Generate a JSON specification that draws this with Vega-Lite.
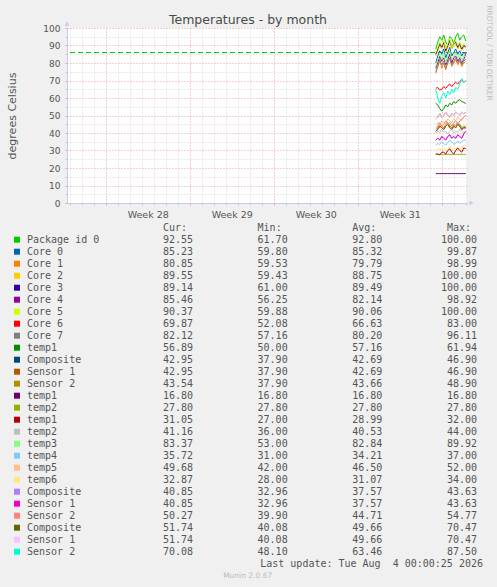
{
  "$schema": "https://vega.github.io/schema/vega-lite/v6.json",
  "description": "Munin style temperature graph, by month, with its legend table.",
  "width": 400,
  "height": 175,
  "autosize": "none",
  "padding": {"left": 67, "top": 28, "right": 30, "bottom": 384},
  "background": "#f0f0f0",
  "title": {
    "text": "Temperatures - by month",
    "font": "DejaVu Sans",
    "fontSize": 12.5,
    "fontWeight": "normal",
    "color": "#4a4a4a",
    "anchor": "middle",
    "frame": "group",
    "baseline": "alphabetic",
    "dx": -19,
    "dy": 35,
    "offset": 3
  },
  "config": {
    "view": {"fill": "#ffffff", "stroke": null},
    "text": {"font": "DejaVu Sans Mono", "fontSize": 10, "color": "#555555"}
  },
  "datasets": {
    "temps": [
      {"t": "2026-08-01T12:00", "pkg": 88, "c0": 80, "c1": 74, "c2": 84, "c3": 85, "c4": 77, "c5": 86, "c6": 65.5, "c7": 75, "t1a": 57, "comp1": 41, "s1a": 41, "s2a": 42, "t1b": 16.8, "t2a": 27.8, "t1c": 28, "t2b": 40, "t3": 78, "t4": 33, "t5": 45, "t6": 30, "comp2": 36, "s1b": 36, "s2b": 43, "comp3": 48, "s1c": 48, "s2c": 65},
      {"t": "2026-08-01T16:00", "pkg": 92, "c0": 84, "c1": 78, "c2": 87, "c3": 88, "c4": 80, "c5": 89, "c6": 66, "c7": 78, "t1a": 56, "comp1": 42, "s1a": 42, "s2a": 43, "t1b": 16.8, "t2a": 27.8, "t1c": 28, "t2b": 41, "t3": 82, "t4": 34, "t5": 46, "t6": 31, "comp2": 37, "s1b": 37, "s2b": 44, "comp3": 49, "s1c": 49, "s2c": 60},
      {"t": "2026-08-01T20:00", "pkg": 95, "c0": 87, "c1": 82, "c2": 90, "c3": 91, "c4": 84, "c5": 92, "c6": 64.5, "c7": 82, "t1a": 54, "comp1": 44, "s1a": 44, "s2a": 45, "t1b": 16.8, "t2a": 27.8, "t1c": 27.5, "t2b": 40, "t3": 85, "t4": 33.5, "t5": 44, "t6": 30.5, "comp2": 36, "s1b": 36, "s2b": 46, "comp3": 51, "s1c": 51, "s2c": 57},
      {"t": "2026-08-02T00:00", "pkg": 93, "c0": 85, "c1": 77, "c2": 88, "c3": 89, "c4": 81, "c5": 90, "c6": 65, "c7": 79, "t1a": 52.5, "comp1": 43, "s1a": 43, "s2a": 44, "t1b": 16.8, "t2a": 27.8, "t1c": 29, "t2b": 42, "t3": 82, "t4": 35, "t5": 47, "t6": 31, "comp2": 38, "s1b": 38, "s2b": 44, "comp3": 49, "s1c": 49, "s2c": 61},
      {"t": "2026-08-02T04:00", "pkg": 96, "c0": 88, "c1": 80, "c2": 91, "c3": 92, "c4": 83, "c5": 93, "c6": 66.5, "c7": 81, "t1a": 54, "comp1": 42, "s1a": 42, "s2a": 43, "t1b": 16.8, "t2a": 27.8, "t1c": 29, "t2b": 40.5, "t3": 86, "t4": 34, "t5": 46, "t6": 32, "comp2": 37, "s1b": 37, "s2b": 45, "comp3": 50, "s1c": 50, "s2c": 63},
      {"t": "2026-08-02T08:00", "pkg": 92, "c0": 83, "c1": 76, "c2": 86, "c3": 87, "c4": 79, "c5": 88, "c6": 65.5, "c7": 77, "t1a": 56, "comp1": 44, "s1a": 44, "s2a": 45, "t1b": 16.8, "t2a": 27.8, "t1c": 28, "t2b": 41, "t3": 80, "t4": 33, "t5": 45, "t6": 30, "comp2": 36, "s1b": 36, "s2b": 47, "comp3": 52, "s1c": 52, "s2c": 60},
      {"t": "2026-08-02T12:00", "pkg": 90, "c0": 86, "c1": 81, "c2": 89, "c3": 90, "c4": 82, "c5": 91, "c6": 67, "c7": 80, "t1a": 55, "comp1": 45, "s1a": 45, "s2a": 46, "t1b": 16.8, "t2a": 27.8, "t1c": 30, "t2b": 39.5, "t3": 84, "t4": 34.5, "t5": 48, "t6": 31, "comp2": 38, "s1b": 38, "s2b": 45, "comp3": 50, "s1c": 50, "s2c": 64},
      {"t": "2026-08-02T16:00", "pkg": 95, "c0": 89, "c1": 83, "c2": 92, "c3": 93, "c4": 85, "c5": 94, "c6": 68, "c7": 83, "t1a": 57, "comp1": 43, "s1a": 43, "s2a": 44, "t1b": 16.8, "t2a": 27.8, "t1c": 31, "t2b": 41, "t3": 87, "t4": 36, "t5": 47, "t6": 32.5, "comp2": 39, "s1b": 39, "s2b": 46, "comp3": 49, "s1c": 49, "s2c": 62},
      {"t": "2026-08-02T20:00", "pkg": 94, "c0": 84, "c1": 78, "c2": 88, "c3": 89, "c4": 80, "c5": 89, "c6": 66.5, "c7": 79, "t1a": 56, "comp1": 42, "s1a": 42, "s2a": 43, "t1b": 16.8, "t2a": 27.8, "t1c": 29, "t2b": 42, "t3": 82, "t4": 35, "t5": 46, "t6": 31, "comp2": 37, "s1b": 37, "s2b": 44, "comp3": 51, "s1c": 51, "s2c": 65},
      {"t": "2026-08-03T00:00", "pkg": 91, "c0": 86, "c1": 80, "c2": 90, "c3": 91, "c4": 83, "c5": 91, "c6": 68, "c7": 81, "t1a": 58, "comp1": 44, "s1a": 44, "s2a": 45, "t1b": 16.8, "t2a": 27.8, "t1c": 28, "t2b": 40, "t3": 84, "t4": 33.5, "t5": 48, "t6": 30, "comp2": 38, "s1b": 38, "s2b": 46, "comp3": 50, "s1c": 50, "s2c": 63},
      {"t": "2026-08-03T04:00", "pkg": 95, "c0": 88, "c1": 82, "c2": 91, "c3": 92, "c4": 84, "c5": 93, "c6": 69, "c7": 83, "t1a": 57, "comp1": 43, "s1a": 43, "s2a": 44, "t1b": 16.8, "t2a": 27.8, "t1c": 30, "t2b": 41, "t3": 86, "t4": 34, "t5": 47, "t6": 31.5, "comp2": 37, "s1b": 37, "s2b": 47, "comp3": 52, "s1c": 52, "s2c": 66},
      {"t": "2026-08-03T08:00", "pkg": 97, "c0": 85, "c1": 79, "c2": 88, "c3": 89, "c4": 81, "c5": 90, "c6": 68, "c7": 80, "t1a": 58.5, "comp1": 45, "s1a": 45, "s2a": 46, "t1b": 16.8, "t2a": 27.8, "t1c": 31.5, "t2b": 40.5, "t3": 83, "t4": 35.5, "t5": 49, "t6": 32, "comp2": 39, "s1b": 39, "s2b": 45, "comp3": 51, "s1c": 51, "s2c": 65},
      {"t": "2026-08-03T12:00", "pkg": 93, "c0": 87, "c1": 81, "c2": 90, "c3": 91, "c4": 83, "c5": 92, "c6": 69.5, "c7": 82, "t1a": 59, "comp1": 44, "s1a": 44, "s2a": 45, "t1b": 16.8, "t2a": 27.8, "t1c": 30, "t2b": 42, "t3": 85, "t4": 34, "t5": 48, "t6": 31, "comp2": 38, "s1b": 38, "s2b": 47, "comp3": 50, "s1c": 50, "s2c": 68},
      {"t": "2026-08-03T16:00", "pkg": 95, "c0": 84, "c1": 78, "c2": 87, "c3": 88, "c4": 80, "c5": 89, "c6": 70.5, "c7": 79, "t1a": 58, "comp1": 42, "s1a": 42, "s2a": 43, "t1b": 16.8, "t2a": 27.8, "t1c": 29, "t2b": 41, "t3": 81, "t4": 35, "t5": 47, "t6": 32, "comp2": 37, "s1b": 37, "s2b": 48, "comp3": 52, "s1c": 52, "s2c": 71},
      {"t": "2026-08-03T20:00", "pkg": 96, "c0": 86, "c1": 80, "c2": 89, "c3": 90, "c4": 82, "c5": 91, "c6": 69, "c7": 81, "t1a": 57.5, "comp1": 43, "s1a": 43, "s2a": 44, "t1b": 16.8, "t2a": 27.8, "t1c": 31.5, "t2b": 40, "t3": 84, "t4": 36, "t5": 49, "t6": 33, "comp2": 39.5, "s1b": 39.5, "s2b": 49, "comp3": 51, "s1c": 51, "s2c": 69},
      {"t": "2026-08-04T00:00", "pkg": 92.55, "c0": 85.23, "c1": 80.85, "c2": 89.55, "c3": 89.14, "c4": 85.46, "c5": 90.37, "c6": 69.87, "c7": 82.12, "t1a": 56.89, "comp1": 42.95, "s1a": 42.95, "s2a": 43.54, "t1b": 16.8, "t2a": 27.8, "t1c": 31.05, "t2b": 41.16, "t3": 83.37, "t4": 35.72, "t5": 49.68, "t6": 32.87, "comp2": 40.85, "s1b": 40.85, "s2b": 50.27, "comp3": 51.74, "s1c": 51.74, "s2c": 70.08}
    ],
    "stats": [
      {"key": "pkg", "name": "Package id 0", "Cur": 92.55, "Min": 61.70, "Avg": 92.80, "Max": 100.00},
      {"key": "c0", "name": "Core 0", "Cur": 85.23, "Min": 59.80, "Avg": 85.32, "Max": 99.87},
      {"key": "c1", "name": "Core 1", "Cur": 80.85, "Min": 59.53, "Avg": 79.79, "Max": 98.99},
      {"key": "c2", "name": "Core 2", "Cur": 89.55, "Min": 59.43, "Avg": 88.75, "Max": 100.00},
      {"key": "c3", "name": "Core 3", "Cur": 89.14, "Min": 61.00, "Avg": 89.49, "Max": 100.00},
      {"key": "c4", "name": "Core 4", "Cur": 85.46, "Min": 56.25, "Avg": 82.14, "Max": 98.92},
      {"key": "c5", "name": "Core 5", "Cur": 90.37, "Min": 59.88, "Avg": 90.06, "Max": 100.00},
      {"key": "c6", "name": "Core 6", "Cur": 69.87, "Min": 52.08, "Avg": 66.63, "Max": 83.00},
      {"key": "c7", "name": "Core 7", "Cur": 82.12, "Min": 57.16, "Avg": 80.20, "Max": 96.11},
      {"key": "t1a", "name": "temp1", "Cur": 56.89, "Min": 50.00, "Avg": 57.16, "Max": 61.94},
      {"key": "comp1", "name": "Composite", "Cur": 42.95, "Min": 37.90, "Avg": 42.69, "Max": 46.90},
      {"key": "s1a", "name": "Sensor 1", "Cur": 42.95, "Min": 37.90, "Avg": 42.69, "Max": 46.90},
      {"key": "s2a", "name": "Sensor 2", "Cur": 43.54, "Min": 37.90, "Avg": 43.66, "Max": 48.90},
      {"key": "t1b", "name": "temp1", "Cur": 16.80, "Min": 16.80, "Avg": 16.80, "Max": 16.80},
      {"key": "t2a", "name": "temp2", "Cur": 27.80, "Min": 27.80, "Avg": 27.80, "Max": 27.80},
      {"key": "t1c", "name": "temp1", "Cur": 31.05, "Min": 27.00, "Avg": 28.99, "Max": 32.00},
      {"key": "t2b", "name": "temp2", "Cur": 41.16, "Min": 36.00, "Avg": 40.53, "Max": 44.00},
      {"key": "t3", "name": "temp3", "Cur": 83.37, "Min": 53.00, "Avg": 82.84, "Max": 89.92},
      {"key": "t4", "name": "temp4", "Cur": 35.72, "Min": 31.00, "Avg": 34.21, "Max": 37.00},
      {"key": "t5", "name": "temp5", "Cur": 49.68, "Min": 42.00, "Avg": 46.50, "Max": 52.00},
      {"key": "t6", "name": "temp6", "Cur": 32.87, "Min": 28.00, "Avg": 31.07, "Max": 34.00},
      {"key": "comp2", "name": "Composite", "Cur": 40.85, "Min": 32.96, "Avg": 37.57, "Max": 43.63},
      {"key": "s1b", "name": "Sensor 1", "Cur": 40.85, "Min": 32.96, "Avg": 37.57, "Max": 43.63},
      {"key": "s2b", "name": "Sensor 2", "Cur": 50.27, "Min": 39.90, "Avg": 44.71, "Max": 54.77},
      {"key": "comp3", "name": "Composite", "Cur": 51.74, "Min": 40.08, "Avg": 49.66, "Max": 70.47},
      {"key": "s1c", "name": "Sensor 1", "Cur": 51.74, "Min": 40.08, "Avg": 49.66, "Max": 70.47},
      {"key": "s2c", "name": "Sensor 2", "Cur": 70.08, "Min": 48.10, "Avg": 63.46, "Max": 87.50}
    ]
  },
  "resolve": {"scale": {"x": "independent", "y": "independent"}},
  "layer": [
    {
      "resolve": {"axis": {"y": "independent"}},
      "layer": [
        {
          "data": {"values": [{"limit": 86}]},
          "mark": {"type": "rule", "color": "#00cc00", "strokeWidth": 1, "strokeDash": [5, 3]},
          "encoding": {
            "y": {
              "field": "limit",
              "type": "quantitative",
              "scale": {"domain": [0, 100], "nice": false},
              "axis": {
                "orient": "right",
                "title": "RRDTOOL / TOBI OETIKER",
                "labels": false,
                "ticks": false,
                "domain": false,
                "grid": false,
                "titleFont": "DejaVu Sans",
                "titleFontSize": 7.4,
                "titleFontWeight": "normal",
                "titleColor": "#bbbbbb",
                "titleAngle": 90,
                "titleY": 24.5,
                "titlePadding": 17
              }
            }
          }
        },
        {
          "data": {"name": "temps"},
          "transform": [
            {
              "fold": ["pkg", "c0", "c1", "c2", "c3", "c4", "c5", "c6", "c7", "t1a", "comp1", "s1a", "s2a", "t1b", "t2a", "t1c", "t2b", "t3", "t4", "t5", "t6", "comp2", "s1b", "s2b", "comp3", "s1c", "s2c"],
              "as": ["key", "temp"]
            }
          ],
          "mark": {"type": "line", "strokeWidth": 1},
          "encoding": {
            "x": {
              "field": "t",
              "type": "temporal",
              "scale": {
                "domain": [
                  {"year": 2026, "month": 7, "date": 1, "hours": 18, "minutes": 30},
                  {"year": 2026, "month": 8, "date": 4, "hours": 2, "minutes": 30}
                ]
              },
              "axis": {
                "title": null,
                "tickCount": {"interval": "day", "step": 1},
                "grid": true,
                "gridColor": {"condition": {"test": "day(datum.value) === 0", "value": "#e8a0a0"}, "value": "#d4d4d4"},
                "gridDash": [1, 2],
                "tickSize": 2,
                "tickColor": {"condition": {"test": "day(datum.value) === 0", "value": "#e8a0a0"}, "value": "#cccccc"},
                "domainColor": "#c8c8f0",
                "labelExpr": "day(datum.value) === 0 && time(datum.value) < time(datetime(2026, 7, 1)) ? 'Week ' + timeFormat(time(datum.value) + 302400000, '%V') : ''",
                "labelOffset": 42,
                "labelOverlap": false,
                "labelBound": false,
                "labelFlush": false,
                "labelFont": "DejaVu Sans",
                "labelFontSize": 9.5,
                "labelColor": "#555555",
                "labelPadding": 4
              }
            },
            "y": {
              "field": "temp",
              "type": "quantitative",
              "scale": {"domain": [0, 100], "nice": false},
              "axis": {
                "orient": "left",
                "values": [0, 5, 10, 15, 20, 25, 30, 35, 40, 45, 50, 55, 60, 65, 70, 75, 80, 85, 90, 95, 100],
                "labelExpr": "datum.value % 10 === 0 ? datum.label : ''",
                "labelOverlap": false,
                "labelFont": "DejaVu Sans",
                "labelFontSize": 9,
                "labelColor": "#555555",
                "labelPadding": 5,
                "tickSize": 2,
                "tickColor": {"condition": {"test": "datum.value % 10 === 0", "value": "#e8a0a0"}, "value": "#cccccc"},
                "grid": true,
                "gridColor": {"condition": {"test": "datum.value % 10 === 0", "value": "#e8a0a0"}, "value": "#d4d4d4"},
                "gridDash": [1, 2],
                "domainColor": "#c8c8f0",
                "title": "degrees Celsius",
                "titleFont": "DejaVu Sans",
                "titleFontSize": 11,
                "titleFontWeight": "normal",
                "titleColor": "#555555",
                "titlePadding": 25
              }
            },
            "color": {
              "field": "key",
              "type": "nominal",
              "scale": {
                "domain": ["pkg", "c0", "c1", "c2", "c3", "c4", "c5", "c6", "c7", "t1a", "comp1", "s1a", "s2a", "t1b", "t2a", "t1c", "t2b", "t3", "t4", "t5", "t6", "comp2", "s1b", "s2b", "comp3", "s1c", "s2c"],
                "range": ["#00CC00", "#0066B3", "#FF8000", "#FFCC00", "#330099", "#990099", "#CCFF00", "#FF0000", "#808080", "#008F00", "#00487D", "#B35A00", "#B38F00", "#6B006B", "#8FB300", "#B30000", "#BEBEBE", "#80FF80", "#80C9FF", "#FFC080", "#FFE680", "#AA80FF", "#EE00CC", "#FF8080", "#666600", "#FFBFFF", "#00FFCC"]
              },
              "legend": null
            }
          }
        },
        {
          "data": {"values": [{"arrow": "y"}]},
          "mark": {"type": "point", "shape": "triangle-up", "size": 22, "filled": true, "opacity": 1, "color": "#c8c8f0"},
          "encoding": {
            "x": {"datum": {"year": 2026, "month": 7, "date": 1, "hours": 18, "minutes": 30}, "type": "temporal"},
            "y": {"datum": 102.5, "type": "quantitative", "axis": null}
          }
        },
        {
          "data": {"values": [{"arrow": "x"}]},
          "mark": {"type": "point", "shape": "triangle-right", "size": 22, "filled": true, "opacity": 1, "color": "#c8c8f0"},
          "encoding": {
            "x": {"datum": {"year": 2026, "month": 8, "date": 4, "hours": 11, "minutes": 30}, "type": "temporal"},
            "y": {"datum": 0, "type": "quantitative", "axis": null}
          }
        }
      ]
    },
    {
      "encoding": {
        "y": {
          "type": "nominal",
          "scale": {
            "type": "point",
            "domain": ["hdr", "pkg", "c0", "c1", "c2", "c3", "c4", "c5", "c6", "c7", "t1a", "comp1", "s1a", "s2a", "t1b", "t2a", "t1c", "t2b", "t3", "t4", "t5", "t6", "comp2", "s1b", "s2b", "comp3", "s1c", "s2c", "upd", "munin"],
            "range": [199.7, 547.7],
            "padding": 0
          },
          "axis": null
        },
        "x": {
          "type": "nominal",
          "scale": {"type": "point", "domain": ["Cur", "Min", "Avg", "Max"], "range": [126, 410], "padding": 0},
          "axis": null
        }
      },
      "layer": [
        {
          "data": {"values": [{"stat": "Cur", "label": "Cur:"}, {"stat": "Min", "label": "Min:"}, {"stat": "Avg", "label": "Avg:"}, {"stat": "Max", "label": "Max:"}]},
          "mark": {"type": "text", "align": "right", "baseline": "middle", "dx": -6},
          "encoding": {
            "x": {"field": "stat"},
            "y": {"datum": "hdr"},
            "text": {"field": "label"}
          }
        },
        {
          "data": {"name": "stats"},
          "mark": {"type": "square", "size": 36, "filled": true, "opacity": 1, "xOffset": -176},
          "encoding": {
            "x": {"datum": "Cur"},
            "y": {"field": "key"},
            "color": {"field": "key", "type": "nominal", "legend": null}
          }
        },
        {
          "data": {"name": "stats"},
          "mark": {"type": "text", "align": "left", "baseline": "middle", "dx": -166},
          "encoding": {
            "x": {"datum": "Cur"},
            "y": {"field": "key"},
            "text": {"field": "name"}
          }
        },
        {
          "data": {"name": "stats"},
          "transform": [{"fold": ["Cur", "Min", "Avg", "Max"], "as": ["stat", "value"]}],
          "mark": {"type": "text", "align": "right", "baseline": "middle"},
          "encoding": {
            "x": {"field": "stat"},
            "y": {"field": "key"},
            "text": {"field": "value", "type": "quantitative", "format": ".2f"}
          }
        },
        {
          "data": {"values": [{"note": "Last update: Tue Aug\u00a0 4 00:00:25 2026"}]},
          "mark": {"type": "text", "align": "right", "baseline": "middle", "dx": 6},
          "encoding": {
            "x": {"datum": "Max"},
            "y": {"datum": "upd"},
            "text": {"field": "note"}
          }
        },
        {
          "data": {"values": [{"note": "Munin 2.0.67"}]},
          "mark": {"type": "text", "align": "center", "baseline": "middle", "dx": -40, "font": "DejaVu Sans", "fontSize": 7.5, "color": "#bbbbbb"},
          "encoding": {
            "x": {"datum": "Min"},
            "y": {"datum": "munin"},
            "text": {"field": "note"}
          }
        }
      ]
    }
  ]
}
